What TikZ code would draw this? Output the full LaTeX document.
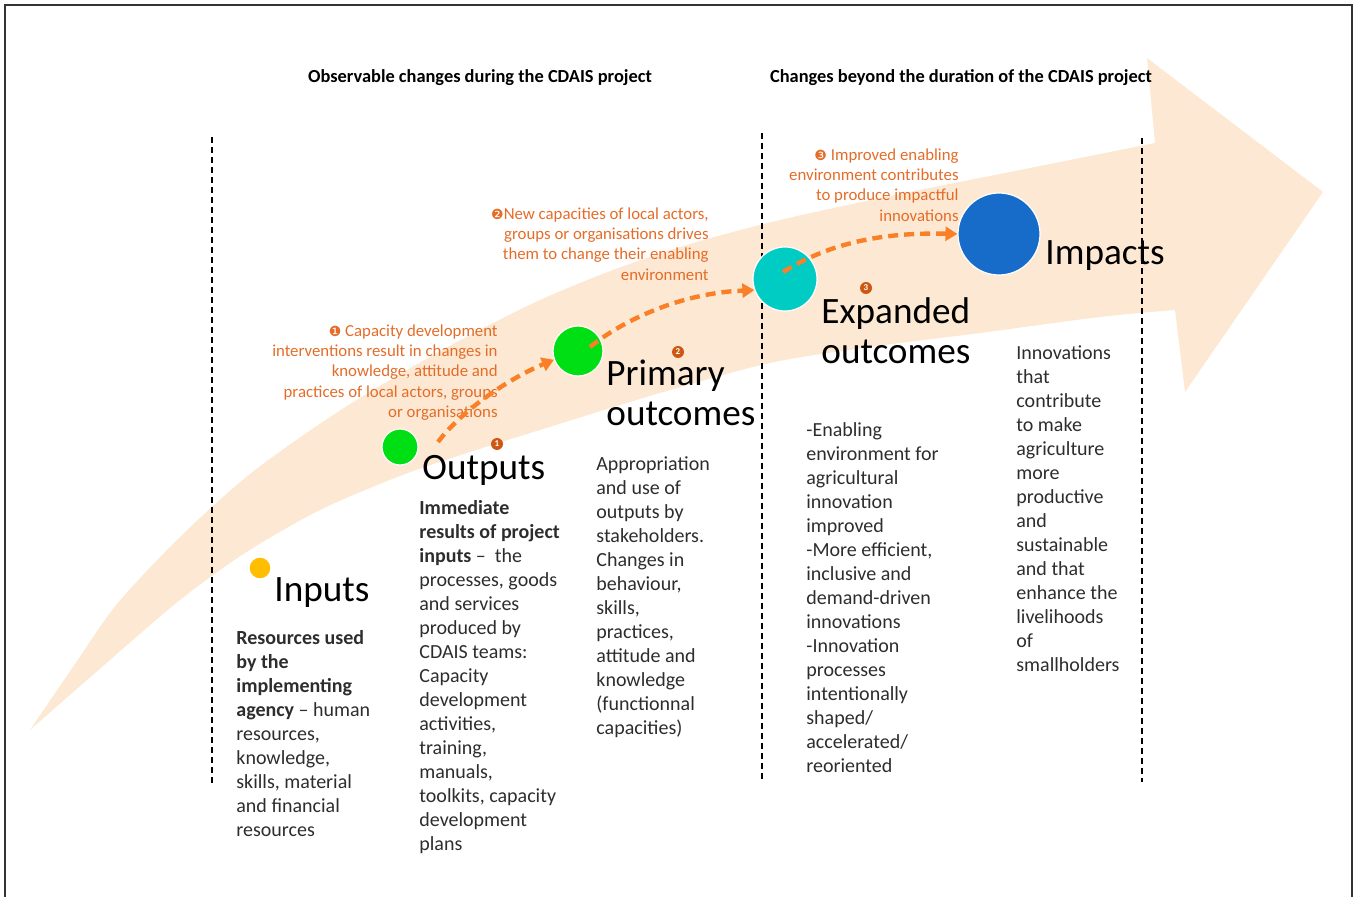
\documentclass[tikz,border=0pt]{standalone}
\usepackage{fontspec}
\setmainfont{Carlito}
\newfontfamily\djv{DejaVu Sans}
\usetikzlibrary{arrows.meta}
\definecolor{peach}{RGB}{253,233,211}
\definecolor{otxt}{RGB}{228,108,40}
\definecolor{oarr}{RGB}{250,128,40}
\definecolor{markc}{RGB}{205,88,20}
\definecolor{cyel}{RGB}{255,190,0}
\definecolor{cgrn}{RGB}{0,222,20}
\definecolor{ctea}{RGB}{0,204,196}
\definecolor{cblu}{RGB}{22,108,200}
\definecolor{bodyc}{RGB}{45,45,45}
\begin{document}
\begin{tikzpicture}[x=0.5pt,y=-0.5pt,
  dot/.style={circle, fill=#1, draw=white, line width=0.6pt, inner sep=0pt},
  biglabel/.style={inner sep=0pt, align=left, font=\fontsize{18.6}{20}\selectfont},
  body/.style={anchor=north west, inner sep=0pt, align=left, text=bodyc, font=\fontsize{10}{12}\selectfont},
  otext/.style={anchor=north east, inner sep=0pt, align=right, text=otxt, font=\fontsize{8.4}{10.2}\selectfont},
  title/.style={anchor=base, inner sep=0pt, font=\bfseries\fontsize{9.2}{11}\selectfont},
  numdot/.style={circle, fill=markc, inner sep=0pt, minimum size=6pt, text=white, font=\bfseries\fontsize{4.5}{5}\selectfont},
  flow/.style={draw=oarr, line width=2.2pt, dash pattern=on 5pt off 3pt, -{Triangle[length=6pt,width=7pt]}},
  vdash/.style={line width=0.9pt, dash pattern=on 3pt off 2pt}]
\useasboundingbox (0,0) rectangle (1354,897);
% frame
\draw[line width=1pt, black!80] (5,897) -- (5,5) -- (1352,5) -- (1352,897);
% big arrow band
\fill[peach] plot[smooth] coordinates {(30,730) (75,664) (117,604) (180,537) (250,474) (330,417) (400,374) (470,335) (540,300) (613,270) (690,244) (780,220) (900,194) (1020,170) (1100,154) (1155,143)}
  -- (1147,58) -- (1323,192) -- (1185,392) --
  plot[smooth] coordinates {(1175,310) (1100,317) (980,333) (870,347) (770,363) (660,393) (540,430) (470,452) (400,476) (320,510) (245,553) (180,600) (110,660) (30,730)} -- cycle;
% dashed separators
\coordinate (s1t) at (212,137); \coordinate (s1b) at (212,783);
\coordinate (s2t) at (762,133); \coordinate (s2b) at (762,780);
\coordinate (s3t) at (1142,138); \coordinate (s3b) at (1142,782);
\draw[vdash] (s1t) -- (s1b);
\draw[vdash] (s2t) -- (s2b);
\draw[vdash] (s3t) -- (s3b);
% titles
\node[title] (t1) at (480,83) {Observable changes during the CDAIS project};
\node[title] (t2) at (961,83) {Changes beyond the duration of the CDAIS project};
% circles
\node[dot=cyel, minimum size=11pt] (cin) at (260,568) {};
\node[dot=cgrn, minimum size=18pt] (cout) at (400,447) {};
\node[dot=cgrn, minimum size=25pt] (cprim) at (578,351) {};
\node[dot=ctea, minimum size=32pt] (cexp) at (785,279) {};
\node[dot=cblu, minimum size=41pt] (cimp) at (999,234) {};
% big labels
\node[biglabel, anchor=base west] (lin) at (274,602) {Inputs};
\node[biglabel, anchor=base west] (lout) at (422,480) {Outputs};
\node[biglabel, anchor=north west] (lprim) at (606,360) {Primary\\outcomes};
\node[biglabel, anchor=north west] (lexp) at (821,297) {Expanded\\outcomes};
\node[biglabel, anchor=base west] (limp) at (1045,265) {Impacts};
% number markers
\node[numdot] (n1) at (497,444) {1};
\node[numdot] (n2) at (678,352) {2};
\node[numdot] (n3) at (866,288) {3};
% orange explanations
\node[otext] (o1) at (498,324) {{\djv\fontsize{7}{8}\selectfont ❶} Capacity development\\interventions result in changes in\\knowledge, attitude and\\practices of local actors, groups\\or organisations};
\node[otext] (o2) at (709,207) {{\djv\fontsize{7}{8}\selectfont ❷}New capacities of local actors,\\groups or organisations drives\\them to change their enabling\\environment};
\node[otext] (o3) at (959,148) {{\djv\fontsize{7}{8}\selectfont ❸} Improved enabling\\environment contributes\\to produce impactful\\innovations};
% flow arrows
\coordinate (a1) at (438,442);
\coordinate (b1) at (590,347);
\coordinate (c1) at (783,272);
\draw[flow] (a1) .. controls (462,410) and (510,378) .. (cprim.200);
\draw[flow] (b1) .. controls (622,321) and (680,293) .. (cexp.200);
\draw[flow] (c1) .. controls (825,246) and (875,232) .. (cimp.west);
% body texts
\node[body] (bin) at (236,630) {\textbf{Resources used}\\\textbf{by the}\\\textbf{implementing}\\\textbf{agency} – human\\resources,\\knowledge,\\skills, material\\and financial\\resources};
\node[body] (bout) at (419,500) {\textbf{Immediate}\\\textbf{results of project}\\\textbf{inputs} –\ \ the\\processes, goods\\and services\\produced by\\CDAIS teams:\\Capacity\\development\\activities,\\training,\\manuals,\\toolkits, capacity\\development\\plans};
\node[body] (bprim) at (596,456) {Appropriation\\and use of\\outputs by\\stakeholders.\\Changes in\\behaviour,\\skills,\\practices,\\attitude and\\knowledge\\(functionnal\\capacities)};
\node[body] (bexp) at (806,422) {-Enabling\\environment for\\agricultural\\innovation\\improved\\-More efficient,\\inclusive and\\demand-driven\\innovations\\-Innovation\\processes\\intentionally\\shaped/\\accelerated/\\reoriented};
\node[body] (bimp) at (1016,345) {Innovations\\that\\contribute\\to make\\agriculture\\more\\productive\\and\\sustainable\\and that\\enhance the\\livelihoods\\of\\smallholders};
\end{tikzpicture}
\end{document}
